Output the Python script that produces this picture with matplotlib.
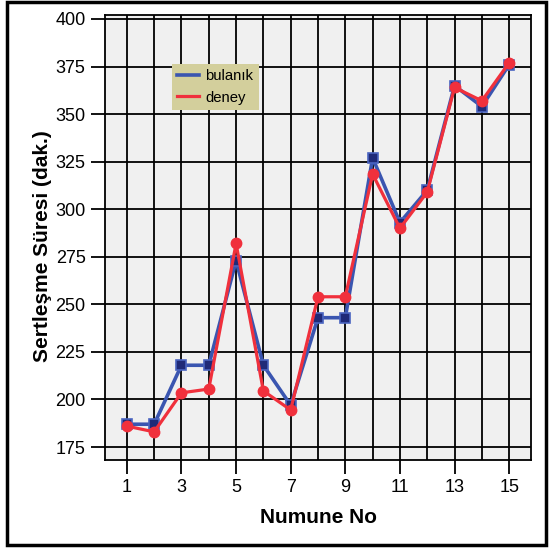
import matplotlib
matplotlib.use('Agg')
import matplotlib.pyplot as plt
from matplotlib.patches import Rectangle

plt.rcParams['font.family'] = ['Liberation Sans', 'DejaVu Sans']

numune = list(range(1, 16))
bulanik = [187, 187, 218, 218, 273, 218, 197, 243, 243, 327, 293, 310, 365, 354, 376]
deney = [186, 183, 203.5, 205.5, 282, 204.5, 194.5, 254, 254, 318.5, 290, 309, 364, 357, 377]
yticks = [175, 200, 225, 250, 275, 300, 325, 350, 375, 400]
xticks = [1, 3, 5, 7, 9, 11, 13, 15]

fig = plt.figure(figsize=(5.51, 5.51), dpi=100)
ax = fig.add_axes([105/551, 1 - 460/551, (531 - 105)/551, (460 - 15)/551])
ax.set_facecolor('#f0f0f0')

# grid: every integer on x, every 25 on y
for x in numune:
    ax.axvline(x, color='black', lw=1.3, zorder=1)
for y in yticks:
    ax.axhline(y, color='black', lw=1.3, zorder=1)

ax.plot(numune, bulanik, color='#3a55b0', lw=2.6, marker='s', ms=7,
        mfc='#1f2a78', mec='#4a64c0', mew=1.2, label='bulanık', zorder=3)
ax.plot(numune, deney, color='#f0303c', lw=2.3, marker='o', ms=7.5,
        mfc='#f0303c', mec='#f0303c', label='deney', zorder=4)

ax.set_xlim(0.2, 15.8)
ax.set_ylim(168.2, 402.1)
ax.set_xticks(xticks)
ax.set_yticks(yticks)
ax.tick_params(direction='out', length=10, width=1.3, labelsize=13, pad=4)
for s in ax.spines.values():
    s.set_linewidth(1.3)

ax.set_xlabel('Numune No', fontsize=15, fontweight='bold', labelpad=8)
fig.text(42.5/551, 1 - 246/551, 'Sertleşme Süresi (dak.)', rotation=90,
         ha='center', va='center', fontsize=15, fontweight='bold')

leg = ax.legend(loc='upper left', bbox_to_anchor=((172 - 105)/426, (460 - 64)/445),
                frameon=True, fancybox=False, fontsize=10.7, handlelength=1.5,
                borderpad=0.35, labelspacing=0.5, handletextpad=0.4, borderaxespad=0)
leg.get_frame().set_facecolor('#d3cf9c')
leg.get_frame().set_edgecolor('none')
leg.get_frame().set_alpha(1)
for h in leg.legend_handles:
    h.set_marker('')

# outer frame
fig.patches.append(Rectangle((7/551, 6/551), 539/551, 543/551, transform=fig.transFigure,
                             fill=False, edgecolor='black', lw=2.5))

fig.savefig('out.png', dpi=100)
